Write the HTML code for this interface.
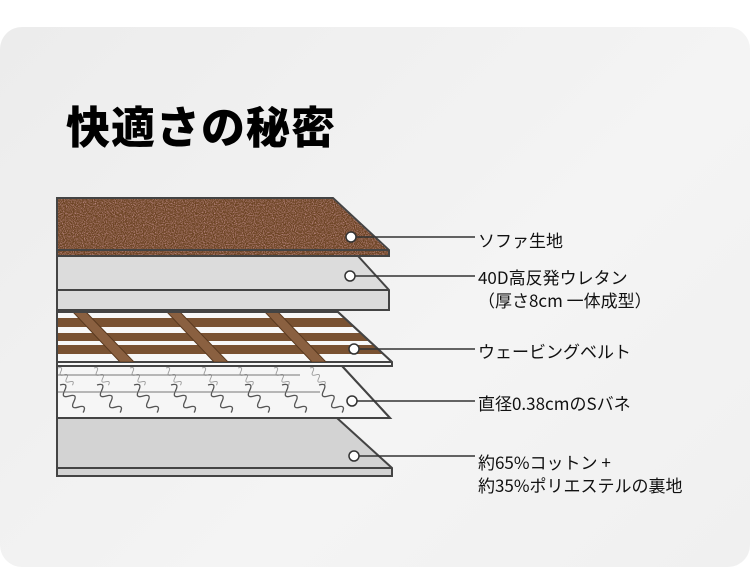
<!DOCTYPE html>
<html><head><meta charset="utf-8"><style>
html,body{margin:0;padding:0;background:#fff;}
body{width:750px;height:536px;position:relative;overflow:hidden;font-family:"Liberation Sans","Noto Sans CJK JP",sans-serif;}
.card{position:absolute;left:0;top:27px;width:750px;height:540px;border-radius:22px;background:linear-gradient(135deg,#ececec,#f4f4f4 60%,#f0f0f0);}
.title{position:absolute;left:66px;top:92px;font-size:44px;font-weight:900;color:#000;letter-spacing:1px;font-family:"Noto Sans CJK JP",sans-serif;}
.lbl{position:absolute;left:478px;font-size:17px;color:#111;font-family:"Noto Sans CJK JP",sans-serif;line-height:23px;white-space:nowrap;}
svg{position:absolute;left:0;top:0;}
</style></head><body>
<div class="card"></div>
<div class="title">快適さの秘密</div>
<svg width="750" height="536" viewBox="0 0 750 536">
<defs>
<filter id="n" x="0" y="0" width="100%" height="100%">
<feTurbulence type="fractalNoise" baseFrequency="0.9" numOctaves="2" seed="3"/>
<feColorMatrix values="0 0 0 0 0.75  0 0 0 0 0.4  0 0 0 0 0.45  0 0 0 -2.2 1.3"/>
<feComposite in2="SourceGraphic" operator="in"/>
</filter>
<path id="s" d="M0 0 q7 3 0 6 q-7 3 0 6 q7 3 0 6 q-7 3 0 6 q7 3 0 6" fill="none"/>
<clipPath id="cw"><polygon points="57,312 338,312 392,362 57,362"/></clipPath>
<clipPath id="cs"><polygon points="57,366 342,366 390,418 57,418"/></clipPath>
</defs>
<g stroke="#444" stroke-width="2">
<polygon points="57,418 337,418 392,468 392,476 57,476" fill="#d3d3d3"/>
<line x1="57" y1="468" x2="392" y2="468"/>
<polygon points="57,366 342,366 390,418 57,418" fill="#f6f6f6"/>
<polygon points="57,312 338,312 392,362 392,366 57,366" fill="#f8f8f8"/>
<line x1="57" y1="362" x2="392" y2="362"/>
<polygon points="57,256 358,256 389,290 389,310 57,310" fill="#dcdcdc"/>
<line x1="57" y1="290" x2="389" y2="290"/>
<polygon points="57,198 333,198 389,250 389,256 57,256" fill="#6b4322"/>
</g>
<polygon points="58,199 333,199 388,250 388,255 58,255" fill="#6b4322" filter="url(#n)" opacity="0.8"/>
<line x1="57" y1="250" x2="389" y2="250" stroke="#444" stroke-width="2"/>
<g clip-path="url(#cw)">
<g fill="#7a5232">
<rect x="57" y="318" width="340" height="9"/>
<rect x="57" y="333" width="340" height="8"/>
<rect x="57" y="345" width="340" height="9"/>
</g>
<g fill="#8a6040" stroke="#5a3a20" stroke-width="1">
<polygon points="73,312 86,312 134,362 120,362"/>
<polygon points="167,312 180,312 228,362 214,362"/>
<polygon points="265,312 278,312 326,362 312,362"/>
</g>
</g>
<g clip-path="url(#cs)">
<g stroke="#999" stroke-width="1.2">
<use href="#s" transform="translate(58,368) rotate(-40) scale(0.75)"/>
<use href="#s" transform="translate(94,368) rotate(-40) scale(0.75)"/>
<use href="#s" transform="translate(130,368) rotate(-40) scale(0.75)"/>
<use href="#s" transform="translate(166,368) rotate(-40) scale(0.75)"/>
<use href="#s" transform="translate(202,368) rotate(-40) scale(0.75)"/>
<use href="#s" transform="translate(238,368) rotate(-40) scale(0.75)"/>
<use href="#s" transform="translate(274,368) rotate(-40) scale(0.75)"/>
<use href="#s" transform="translate(310,368) rotate(-40) scale(0.75)"/>
</g>
<g stroke="#555" stroke-width="1.1">
<use href="#s" transform="translate(60,385) rotate(-40) scale(1.2)"/>
<use href="#s" transform="translate(97,385) rotate(-40) scale(1.2)"/>
<use href="#s" transform="translate(134,385) rotate(-40) scale(1.2)"/>
<use href="#s" transform="translate(171,385) rotate(-40) scale(1.2)"/>
<use href="#s" transform="translate(208,385) rotate(-40) scale(1.2)"/>
<use href="#s" transform="translate(245,385) rotate(-40) scale(1.2)"/>
<use href="#s" transform="translate(282,385) rotate(-40) scale(1.2)"/>
<use href="#s" transform="translate(319,385) rotate(-40) scale(1.2)"/>
</g>
<line x1="57" y1="375" x2="300" y2="375" stroke="#777" stroke-width="1"/>
<line x1="57" y1="392" x2="320" y2="392" stroke="#777" stroke-width="1"/>
</g>
<polygon points="57,366 342,366 390,418 57,418" fill="none" stroke="#444" stroke-width="2"/>
<polygon points="57,312 338,312 392,362 392,366 57,366" fill="none" stroke="#444" stroke-width="2"/>
<g stroke="#333" stroke-width="1.5" fill="#fff">
<line x1="351" y1="237" x2="475" y2="237"/>
<line x1="350" y1="276" x2="475" y2="276"/>
<line x1="354" y1="349" x2="475" y2="349"/>
<line x1="352" y1="401" x2="475" y2="401"/>
<line x1="354" y1="456" x2="475" y2="456"/>
<circle cx="351" cy="237" r="5"/>
<circle cx="350" cy="276" r="5"/>
<circle cx="354" cy="349" r="5"/>
<circle cx="352" cy="401" r="5"/>
<circle cx="354" cy="456" r="5"/>
</g>
</svg>
<div class="lbl" style="top:228px">ソファ生地</div>
<div class="lbl" style="top:265px">40D高反発ウレタン<br>（厚さ8cm 一体成型）</div>
<div class="lbl" style="top:339px">ウェービングベルト</div>
<div class="lbl" style="top:391px">直径0.38cmのSバネ</div>
<div class="lbl" style="top:450px">約65%コットン +<br>約35%ポリエステルの裏地</div>
</body></html>
